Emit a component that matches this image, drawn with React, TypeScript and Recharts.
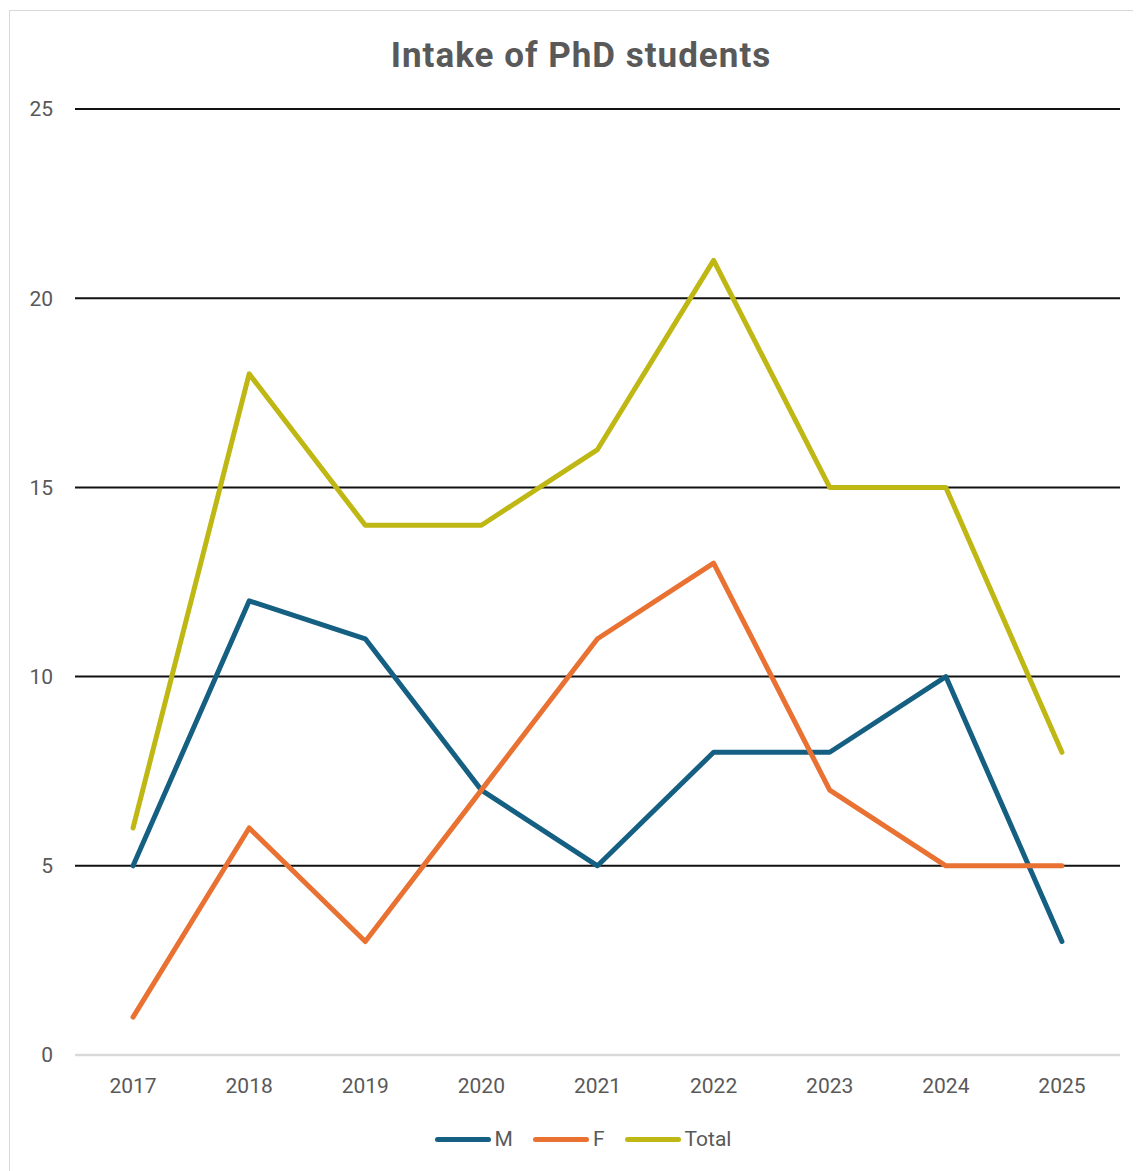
import { LineChart, Line, XAxis, YAxis, CartesianGrid } from "recharts";

const years = ["2017", "2018", "2019", "2020", "2021", "2022", "2023", "2024", "2025"];
const male = [5, 12, 11, 7, 5, 8, 8, 10, 3];
const female = [1, 6, 3, 7, 11, 13, 7, 5, 5];
const total = [6, 18, 14, 14, 16, 21, 15, 15, 8];
const yTicks = [0, 5, 10, 15, 20, 25];

const series = [
  { key: "M", color: "#156082" },
  { key: "F", color: "#E97132" },
  { key: "Total", color: "#BFB713" },
];

const data = years.map((year, i) => ({
  year,
  M: male[i],
  F: female[i],
  Total: total[i],
}));

const font = "Roboto, 'Open Sans', sans-serif";

export default function App() {
  return (
    <div
      style={{
        position: "relative",
        width: 1132,
        height: 1160,
        border: "1px solid #d9d9d9",
        marginLeft: 1,
        marginTop: 2,
        background: "#fff",
        fontFamily: font,
      }}
    >
      <div
        style={{
          position: "absolute",
          top: 24,
          left: 10,
          right: 0,
          textAlign: "center",
          fontSize: 35,
          letterSpacing: 1,
          fontWeight: 700,
          color: "#595959",
        }}
      >
        Intake of PhD students
      </div>

      <LineChart
        width={1132}
        height={1160}
        data={data}
        margin={{ top: 98, right: 22, bottom: 76, left: 0 }}
      >
        <CartesianGrid vertical={false} stroke="#111" strokeWidth={2} />
        <XAxis
          dataKey="year"
          scale="band"
          height={40}
          tickLine={false}
          tickSize={0}
          tickMargin={23}
          axisLine={{ stroke: "#d9d9d9", strokeWidth: 2.5 }}
          tick={{ fill: "#595959", fontSize: 21, fontFamily: font }}
        />
        <YAxis
          width={65}
          domain={[0, 25]}
          ticks={yTicks}
          tickLine={false}
          axisLine={false}
          tickSize={0}
          tickMargin={22}
          tick={{ fill: "#595959", fontSize: 21, fontFamily: font }}
        />
        {series.map((s) => (
          <Line
            key={s.key}
            dataKey={s.key}
            type="linear"
            stroke={s.color}
            strokeWidth={5}
            strokeLinecap="round"
            strokeLinejoin="round"
            dot={false}
            activeDot={false}
            isAnimationActive={false}
          />
        ))}
      </LineChart>

      <div
        style={{
          position: "absolute",
          top: 1116,
          left: 0,
          right: 0,
          display: "flex",
          justifyContent: "center",
          paddingLeft: 14,
          gap: 20,
          fontSize: 21,
          color: "#595959",
        }}
      >
        {series.map((s) => (
          <div key={s.key} style={{ display: "flex", alignItems: "center" }}>
            <span
              style={{
                display: "inline-block",
                width: 56,
                height: 5,
                borderRadius: 3,
                background: s.color,
                marginRight: 4,
              }}
            />
            <span>{s.key}</span>
          </div>
        ))}
      </div>
    </div>
  );
}
